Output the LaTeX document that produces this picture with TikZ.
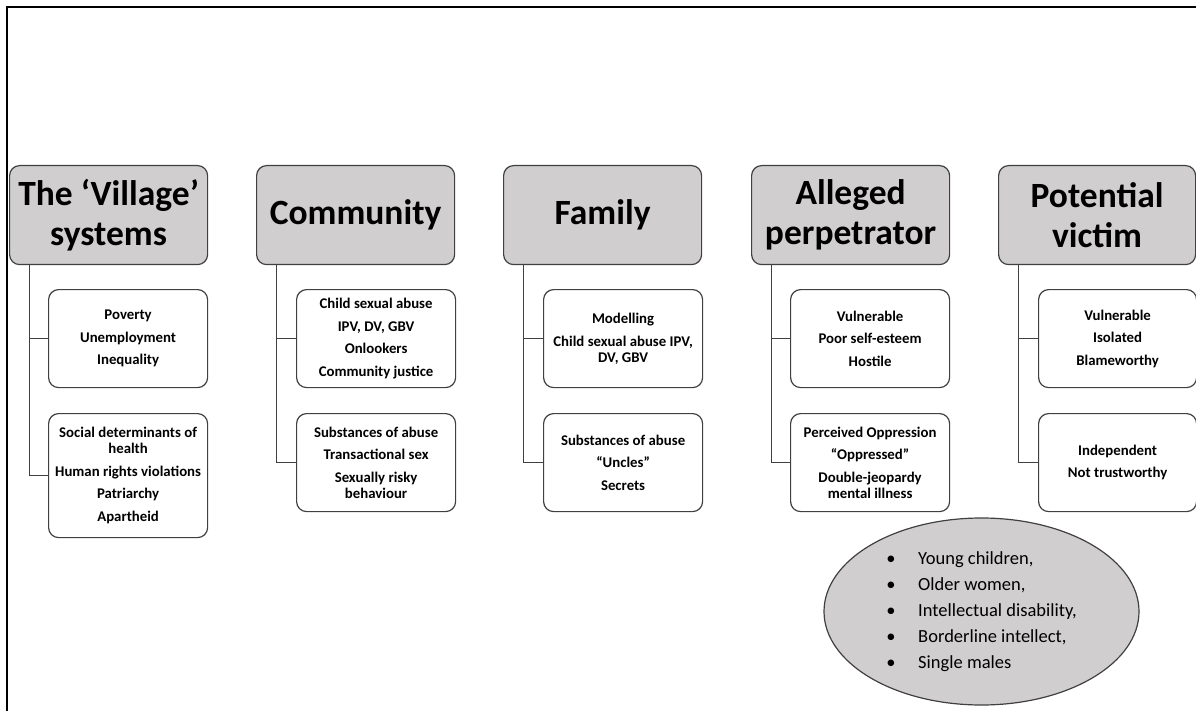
\documentclass[tikz,border=0pt]{standalone}
\usepackage{fontspec}
\setmainfont{Carlito}
\usetikzlibrary{shapes.geometric}

\definecolor{boxgray}{RGB}{208,206,206}
\definecolor{edgegray}{RGB}{64,64,64}

\begin{document}
\begin{tikzpicture}[x=1pt,y=-1pt,
        head/.style={draw=edgegray,line width=1.2pt,fill=boxgray,rounded corners=10pt,anchor=north west,
            minimum width=198pt,minimum height=99pt,inner sep=0pt,align=center,font=\fontsize{35.5}{40}\selectfont\bfseries},
        item/.style={draw=edgegray,line width=1.2pt,fill=white,rounded corners=10pt,anchor=north west,
            minimum width=159pt,minimum height=98pt,inner sep=0pt,align=center,font=\fontsize{14.8}{16}\selectfont\bfseries},
        link/.style={draw=edgegray,line width=1pt}]
        \useasboundingbox (0,0) rectangle (1196,711);
        \draw[line width=1.2pt] (7,711) -- (7,7) -- (1196,7);
        \node[head] (village) at (9,165) {The ‘Village’\\systems};
        \node[head] (community) at (256,165) {Community};
        \node[head] (family) at (503,165) {Family};
        \node[head] (perpetrator) at (751,165) {Alleged\\perpetrator};
        \node[head,minimum width=197pt] (victim) at (998,165) {Potential\\victim};
        \node[item] (village1) at (48,289) {Poverty\\[6.5pt]Unemployment\\[6.5pt]Inequality};
        \node[item,minimum height=124pt] (village2) at (48,413) {Social determinants of\\health\\[6.5pt]Human rights violations\\[6.5pt]Patriarchy\\[6.5pt]Apartheid};
        \node[item] (community1) at (296,289) {Child sexual abuse\\[6.5pt]IPV, DV, GBV\\[6.5pt]Onlookers\\[6.5pt]Community justice};
        \node[item] (community2) at (296,413) {Substances of abuse\\[6.5pt]Transactional sex\\[6.5pt]Sexually risky\\behaviour};
        \node[item] (family1) at (543,289) {Modelling\\[6.5pt]Child sexual abuse IPV,\\DV, GBV};
        \node[item] (family2) at (543,413) {Substances of abuse\\[6.5pt]“Uncles”\\[6.5pt]Secrets};
        \node[item] (perpetrator1) at (790,289) {Vulnerable\\[6.5pt]Poor self-esteem\\[6.5pt]Hostile};
        \node[item] (perpetrator2) at (790,413) {Perceived Oppression\\[6.5pt]“Oppressed”\\[6.5pt]Double-jeopardy\\mental illness};
        \node[item,minimum width=158pt] (victim1) at (1038,289) {Vulnerable\\[6.5pt]Isolated\\[6.5pt]Blameworthy};
        \node[item,minimum width=158pt] (victim2) at (1038,413) {Independent\\[6.5pt]Not trustworthy};
        \foreach \h in {village,community,family,perpetrator,victim}
        \draw[link] ([xshift=20pt]\h.south west) |- (\h2.west) ([xshift=20pt]\h.south west) |- (\h1.west);
        \node[ellipse,draw=edgegray,line width=1.2pt,fill=boxgray,minimum width=315pt,minimum height=187pt,
            inner sep=0pt,align=left,font=\fontsize{18.5}{26}\selectfont] (groups) at (981.5,611.5)
            {\makebox[32pt][l]{\textbullet}Young children,\\\makebox[32pt][l]{\textbullet}Older women,\\
             \makebox[32pt][l]{\textbullet}Intellectual disability,\\\makebox[32pt][l]{\textbullet}Borderline intellect,\\
             \makebox[32pt][l]{\textbullet}Single males};
    \end{tikzpicture}
\end{document}
